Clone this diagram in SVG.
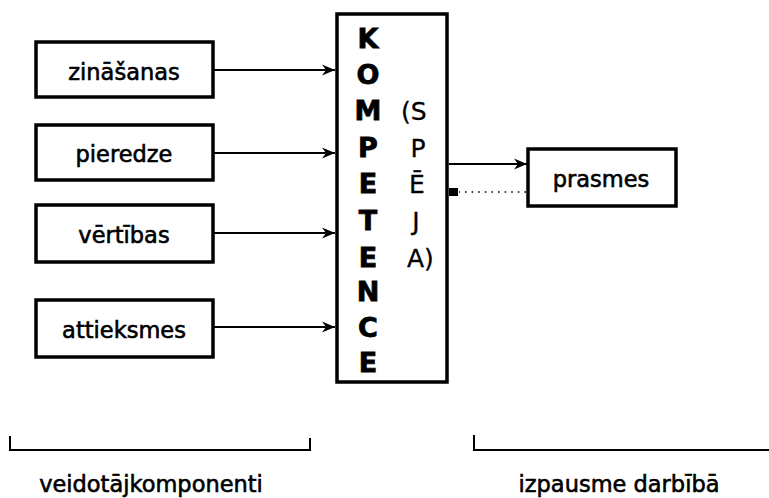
<svg xmlns="http://www.w3.org/2000/svg" width="769" height="498" viewBox="0 0 769 498">
<style>
  .box { fill: #fff; stroke: #000; stroke-width: 3.5; }
  .lbl { font-family: "DejaVu Sans", "Liberation Sans", sans-serif; font-size: 22.5px; fill: #000; stroke: #000; stroke-width: 0.6; text-anchor: middle; }
  .big { font-family: "DejaVu Sans", "Liberation Sans", sans-serif; font-size: 27px; font-weight: bold; fill: #000; stroke: #000; stroke-width: 0.8; text-anchor: middle; }
  .sp { font-family: "DejaVu Sans", "Liberation Sans", sans-serif; font-size: 25px; fill: #000; stroke: #000; stroke-width: 0.3; }
  .conn { stroke: #000; stroke-width: 1.8; fill: none; }
  .dot { stroke: #000; stroke-width: 1.6; fill: none; stroke-dasharray: 1.6 5; }
  .br { stroke: #000; stroke-width: 2; fill: none; }
</style>
<defs>
  <marker id="arr" markerUnits="userSpaceOnUse" markerWidth="16" markerHeight="14" refX="14" refY="7" orient="auto">
    <path d="M1,1.5 L14,7 L1,12.5 L5,7 Z" fill="#000"/>
  </marker>
</defs>

<g id="connectors">
  <line class="conn" x1="213" y1="70" x2="335" y2="70" marker-end="url(#arr)"/>
  <line class="conn" x1="213" y1="153" x2="335" y2="153" marker-end="url(#arr)"/>
  <line class="conn" x1="213" y1="233" x2="335" y2="233" marker-end="url(#arr)"/>
  <line class="conn" x1="213" y1="327" x2="335" y2="327" marker-end="url(#arr)"/>
  <line class="conn" x1="449" y1="164" x2="527" y2="164" marker-end="url(#arr)"/>
  <line class="dot" x1="526" y1="192" x2="459" y2="192"/>
  <rect x="449" y="188" width="9" height="8" fill="#000"/>
</g>

<g id="node-zinasanas">
  <rect class="box" x="36" y="42" width="177" height="55"/>
  <text class="lbl" x="124" y="80">zināšanas</text>
</g>
<g id="node-pieredze">
  <rect class="box" x="36" y="125" width="177" height="55"/>
  <text class="lbl" x="124" y="162">pieredze</text>
</g>
<g id="node-vertibas">
  <rect class="box" x="36" y="205" width="177" height="57"/>
  <text class="lbl" x="124" y="243">vērtības</text>
</g>
<g id="node-attieksmes">
  <rect class="box" x="36" y="300" width="177" height="57"/>
  <text class="lbl" x="124" y="338">attieksmes</text>
</g>

<g id="node-kompetence">
  <rect class="box" x="337" y="14" width="110" height="368" stroke-width="4"/>
  <text class="big" x="368" y="48">K</text>
  <text class="big" x="368" y="84">O</text>
  <text class="big" x="368" y="120">M</text>
  <text class="big" x="368" y="157">P</text>
  <text class="big" x="368" y="193">E</text>
  <text class="big" x="368" y="230">T</text>
  <text class="big" x="368" y="267">E</text>
  <text class="big" x="368" y="301">N</text>
  <text class="big" x="368" y="337">C</text>
  <text class="big" x="368" y="372">E</text>
  <text class="sp" x="401" y="120">(S</text>
  <text class="sp" x="418" y="157" text-anchor="middle">P</text>
  <text class="sp" x="417" y="193" text-anchor="middle">Ē</text>
  <text class="sp" x="416" y="230" text-anchor="middle">J</text>
  <text class="sp" x="407" y="267">A)</text>
</g>

<g id="node-prasmes">
  <rect class="box" x="528" y="149" width="148" height="57"/>
  <text class="lbl" x="601" y="187">prasmes</text>
</g>

<g id="brackets">
  <path class="br" d="M10,436 V450 H310 V438"/>
  <path class="br" d="M474,435 V450 H769"/>
  <text class="lbl" x="151" y="492">veidotājkomponenti</text>
  <text class="lbl" x="619" y="492">izpausme darbībā</text>
</g>
</svg>
